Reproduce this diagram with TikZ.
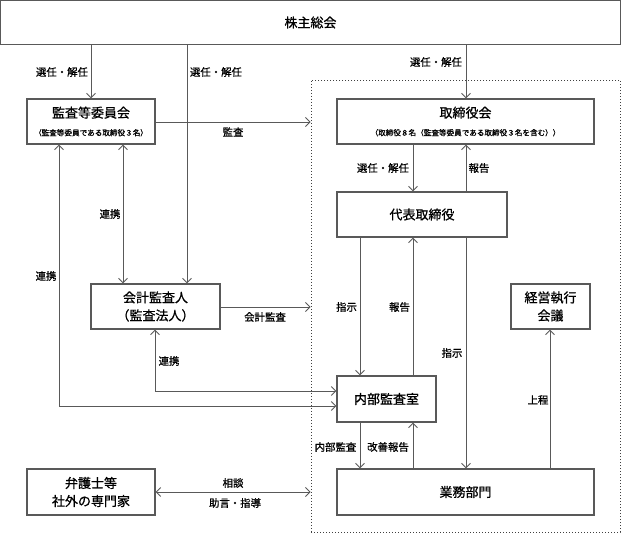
\documentclass[tikz,border=0pt]{standalone}
\usepackage{fontspec}
\setmainfont{Noto Sans CJK JP}[FakeBold=0.9]
\usetikzlibrary{arrows.meta,calc}
\tikzset{
  box/.style={draw=black!65, line width=1.2pt, fill=white, inner sep=0pt, align=center,
    font=\fontsize{13}{18}\selectfont},
  dotbox/.style={draw=black!75, line width=0.9pt, dash pattern=on 1.4pt off 1.6pt, inner sep=0pt},
  conn/.style={draw=black!65, line width=0.9pt},
  tipa/.tip={Straight Barb[length=4.5pt,width=9pt,line width=0.9pt]},
  arr/.style={conn, -tipa},
  darr/.style={conn, tipa-tipa},
  lab/.style={font=\fontsize{10.4}{12}\selectfont, inner sep=0pt},
}
\newcommand{\subtxt}{\fontsize{7.6}{11}\selectfont}
\begin{document}
\begin{tikzpicture}[x=1pt,y=-1pt]
\useasboundingbox (0,0) rectangle (621,534);
% dotted region
\node[dotbox, minimum width=309pt, minimum height=452pt] (dot) at (465.5,306) {};
% boxes
\node[box, minimum width=619.5pt, minimum height=44.5pt] (top) at (310.5,22.5) {株主総会};
\node[box, minimum width=128pt, minimum height=45pt] (A) at (91,121.5)
  {監査等委員会\\\subtxt（監査等委員である取締役３名）};
\node[box, minimum width=257pt, minimum height=45pt] (B) at (465.5,121.5)
  {取締役会\\\subtxt（取締役８名（監査等委員である取締役３名を含む））};
\node[box, minimum width=170pt, minimum height=45pt] (C) at (422,214.5) {代表取締役};
\node[box, minimum width=129pt, minimum height=45pt] (D) at (155.5,306.5) {会計監査人\\（監査法人）};
\node[box, minimum width=79pt, minimum height=45pt] (E) at (550.5,306.5) {経営執行\\会議};
\node[box, minimum width=99pt, minimum height=46pt] (F) at (386.5,399) {内部監査室};
\node[box, minimum width=128pt, minimum height=46pt] (G) at (91,492) {弁護士等\\社外の専門家};
\node[box, minimum width=257pt, minimum height=46pt] (H) at (465.5,492) {業務部門};
% helper coordinates
\coordinate (x59) at (59,0);
\coordinate (x123) at (123,0);
\coordinate (x155) at (155,0);
\coordinate (x187) at (187,0);
\coordinate (x360) at (360,0);
\coordinate (x413) at (413,0);
\coordinate (x466) at (466,0);
\coordinate (x550) at (550,0);
\coordinate (y122) at (0,122);
\coordinate (y307) at (0,307);
\coordinate (y391) at (0,391);
\coordinate (y406) at (0,406);
\coordinate (y492) at (0,492);
% connectors
\draw[arr] (top.south -| A.north) -- (A.north);
\draw[arr] (top.south -| x187) -- (D.north -| x187);
\draw[arr] (top.south -| x466) -- (B.north -| x466);
\draw[arr] (A.east |- y122) -- (dot.west |- y122);
\draw[arr] (B.south -| x413) -- (C.north -| x413);
\draw[arr] (C.north -| x466) -- (B.south -| x466);
\draw[darr] (A.south -| x123) -- (D.north -| x123);
\draw[darr] (A.south -| x59) -- (x59 |- y406) -- (F.west |- y406);
\draw[darr] (D.south -| x155) -- (x155 |- y391) -- (F.west |- y391);
\draw[arr] (D.east |- y307) -- (dot.west |- y307);
\draw[arr] (C.south -| x360) -- (F.north -| x360);
\draw[arr] (F.north -| x413) -- (C.south -| x413);
\draw[arr] (C.south -| x466) -- (H.north -| x466);
\draw[arr] (H.north -| x550) -- (E.south -| x550);
\draw[arr] (F.south -| x360) -- (H.north -| x360);
\draw[arr] (H.north -| x413) -- (F.south -| x413);
\draw[darr] (G.east |- y492) -- (dot.west |- y492);
% labels
\node[lab] (l1) at (62,72) {選任・解任};
\node[lab] (l2) at (216,72) {選任・解任};
\node[lab] (l3) at (436,62) {選任・解任};
\node[lab] (l4) at (233,132) {監査};
\node[lab] (l5) at (383,168) {選任・解任};
\node[lab] (l6) at (479,168) {報告};
\node[lab] (l7) at (110,214) {連携};
\node[lab] (l8) at (46,276) {連携};
\node[lab] (l9) at (265,317) {会計監査};
\node[lab] (l10) at (346.5,307) {指示};
\node[lab] (l11) at (399.5,307) {報告};
\node[lab] (l12) at (452,353) {指示};
\node[lab] (l13) at (169,361) {連携};
\node[lab] (l14) at (538,400) {上程};
\node[lab] (l15) at (335.5,447) {内部監査};
\node[lab] (l16) at (388,447) {改善報告};
\node[lab] (l17) at (233,483) {相談};
\node[lab] (l18) at (235,503) {助言・指導};
\end{tikzpicture}
\end{document}
